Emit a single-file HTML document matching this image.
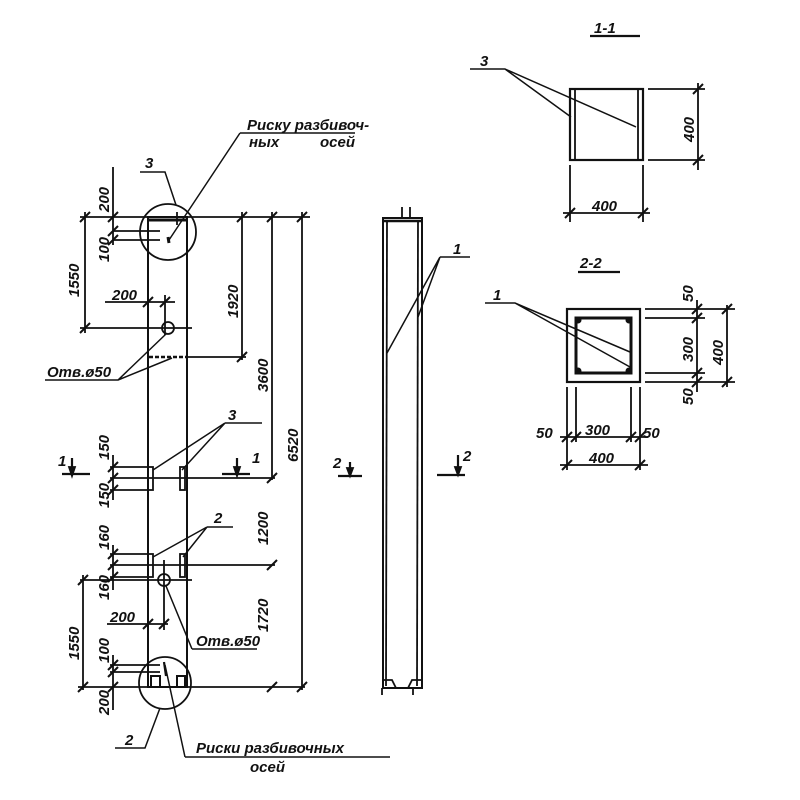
<!DOCTYPE html>
<html><head><meta charset="utf-8"><style>
html,body{margin:0;padding:0;background:#fff}
svg{display:block}
text{font-family:"Liberation Sans",sans-serif;font-style:italic;font-weight:bold;fill:#111;font-size:15px}
</style></head><body>
<svg width="800" height="800" viewBox="0 0 800 800" xmlns="http://www.w3.org/2000/svg">
<g stroke="#111" stroke-width="1.8" fill="none">
<!-- main column -->
<rect x="148" y="217" width="39" height="470" stroke-width="2"/>
<line x1="149" y1="220" x2="186" y2="220" stroke-width="3"/>
<line x1="177" y1="212" x2="177" y2="225"/>
<line x1="168" y1="237" x2="169" y2="243" stroke-width="3"/>
<circle cx="168" cy="232" r="28"/>
<circle cx="168" cy="328" r="6"/>
<line x1="149" y1="357" x2="187" y2="357" stroke-dasharray="4,2" stroke-width="2.5"/>
<circle cx="164" cy="580" r="6"/>
<circle cx="165" cy="683" r="26"/>
<path d="M151 687 V676 H160 V687 M177 687 V676 H185 V687" stroke-width="2"/>
<line x1="164" y1="662" x2="166" y2="676" stroke-width="2.2"/>
<!-- plates -->
<rect x="148" y="467" width="5" height="23"/><rect x="180" y="467" width="5" height="23"/>
<rect x="148" y="554" width="5" height="23"/><rect x="180" y="554" width="5" height="23"/>
<!-- left dims top -->
<line x1="80" y1="217" x2="310" y2="217"/>
<line x1="113" y1="167" x2="113" y2="245"/>
<line x1="113" y1="231" x2="160" y2="231"/><line x1="113" y1="240" x2="160" y2="240"/>
<line x1="85" y1="212" x2="85" y2="333"/>
<line x1="80" y1="328" x2="192" y2="328"/>
<line x1="105" y1="302" x2="175" y2="302"/><line x1="165" y1="295" x2="165" y2="335"/>
<line x1="242" y1="212" x2="242" y2="360"/><line x1="187" y1="357" x2="246" y2="357"/>
<line x1="272" y1="212" x2="272" y2="480"/>
<line x1="302" y1="212" x2="302" y2="690"/>
<line x1="110" y1="467" x2="148" y2="467"/><line x1="110" y1="478" x2="275" y2="478"/><line x1="110" y1="490" x2="148" y2="490"/>
<line x1="110" y1="554" x2="148" y2="554"/><line x1="110" y1="565" x2="275" y2="565"/><line x1="110" y1="577" x2="148" y2="577"/>
<line x1="113" y1="455" x2="113" y2="500"/><line x1="113" y1="545" x2="113" y2="590"/>
<line x1="80" y1="580" x2="192" y2="580"/>
<line x1="83" y1="575" x2="83" y2="690"/>
<line x1="107" y1="624" x2="168" y2="624"/><line x1="164" y1="560" x2="164" y2="630"/><line x1="148" y1="615" x2="148" y2="630"/>
<line x1="110" y1="665" x2="160" y2="665"/><line x1="110" y1="672" x2="160" y2="672"/>
<line x1="113" y1="655" x2="113" y2="710"/>
<line x1="78" y1="687" x2="305" y2="687"/>
<g stroke-width="2">
<path d="M80 222 l10 -10 M108 222 l10 -10 M108 236 l10 -10 M108 245 l10 -10 M237 222 l10 -10 M267 222 l10 -10 M297 222 l10 -10 M80 333 l10 -10 M237 362 l10 -10 M143 307 l10 -10 M160 307 l10 -10 M267 483 l10 -10 M267 570 l10 -10 M297 692 l10 -10 M267 692 l10 -10 M78 692 l10 -10 M78 585 l10 -10 M108 472 l10 -10 M108 483 l10 -10 M108 495 l10 -10 M108 559 l10 -10 M108 570 l10 -10 M108 582 l10 -10 M143 629 l10 -10 M159 629 l10 -10 M108 670 l10 -10 M108 677 l10 -10 M108 692 l10 -10"/>
</g>
<!-- leaders -->
<g stroke-width="1.5">
<path d="M240 133 H355 M240 133 L169 240"/>
<path d="M140 172 H165 L176 205"/>
<path d="M45 380 H118 L166 334 M118 380 L172 358"/>
<path d="M225 423 H262 M225 423 L153 470 M225 423 L182 470"/>
<path d="M207 527 H233 M207 527 L153 557 M207 527 L183 557"/>
<path d="M192 649 H257 M192 649 L166 586"/>
<path d="M115 748 H145 L160 708"/>
<path d="M185 757 H390 M185 757 L165 665"/>
<path d="M440 257 H470 M440 257 L387 353 M440 257 L418 317"/>
<path d="M470 69 H505 L571 117 M505 69 L636 127"/>
<path d="M485 303 H515 L630 352 M515 303 L630 367"/>
</g>
<!-- section arrows -->
<path d="M72 458 V474 M62 474 H90 M237 458 V474 M222 474 H250 M350 462 V476 M338 476 H362 M458 455 V475 M437 475 H465" stroke-width="2.2"/>
<path d="M69 467 L72 476 L75 467 Z M234 467 L237 476 L240 467 Z M347 468 L350 476 L353 468 Z M455 467 L458 475 L461 467 Z" fill="#111"/>
<!-- middle column -->
<rect x="383" y="218" width="39" height="470" stroke-width="2"/>
<line x1="387" y1="220" x2="386" y2="686"/><line x1="418" y1="220" x2="417" y2="686"/>
<line x1="383" y1="221" x2="422" y2="221" stroke-width="2.5"/>
<line x1="402" y1="207" x2="402" y2="218"/><line x1="410" y1="207" x2="410" y2="218"/>
<path d="M383 680 H392 L396 688 H408 L412 680 H422"/>
<line x1="382" y1="688" x2="382" y2="695"/><line x1="413" y1="688" x2="413" y2="695"/>
<!-- section 1-1 -->
<line x1="590" y1="36" x2="640" y2="36" stroke-width="2.2"/>
<rect x="570" y="89" width="73" height="71" stroke-width="2.2"/>
<line x1="575" y1="89" x2="575" y2="160"/><line x1="638" y1="89" x2="638" y2="160"/>
<path d="M648 89 H705 M648 160 H705 M698 83 V170 M570 165 V222 M643 165 V222 M563 213 H650"/>
<path d="M693 94 l10 -10 M693 165 l10 -10 M565 218 l10 -10 M638 218 l10 -10" stroke-width="2"/>
<!-- section 2-2 -->
<line x1="578" y1="272" x2="620" y2="272" stroke-width="2.2"/>
<rect x="567" y="309" width="73" height="73" stroke-width="2.2"/>
<rect x="576" y="318" width="55" height="55" stroke-width="3"/>
<path d="M645 309 H735 M645 318 H705 M645 373 H705 M645 382 H735 M697 300 V392 M727 305 V387"/>
<path d="M567 387 V470 M576 387 V442 M631 387 V442 M640 387 V470 M560 437 H648 M560 465 H648"/>
<path d="M692 314 l10 -10 M692 323 l10 -10 M692 378 l10 -10 M692 387 l10 -10 M722 314 l10 -10 M722 387 l10 -10 M562 442 l10 -10 M571 442 l10 -10 M626 442 l10 -10 M635 442 l10 -10 M562 470 l10 -10 M635 470 l10 -10" stroke-width="2"/>
</g>
<g fill="#111">
<circle cx="578" cy="320" r="3.5"/><circle cx="629" cy="320" r="3.5"/><circle cx="578" cy="371" r="3.5"/><circle cx="629" cy="371" r="3.5"/>
</g>
<text x="247" y="130" font-size="16">Риску  разбивоч-</text>
<text x="249" y="147" font-size="14">ных</text><text x="320" y="147" font-size="14">осей</text>
<text x="145" y="168" font-size="17">3</text>
<text x="47" y="377" font-size="15">Отв.ø50</text>
<text x="228" y="420" font-size="17">3</text>
<text x="214" y="523" font-size="17">2</text>
<text x="196" y="646" font-size="15">Отв.ø50</text>
<text x="125" y="745" font-size="17">2</text>
<text x="196" y="753" font-size="15">Риски   разбивочных</text>
<text x="250" y="772" font-size="15">осей</text>
<text x="112" y="300" font-size="15">200</text>
<text x="110" y="622" font-size="15">200</text>
<text x="58" y="466" font-size="16">1</text><text x="252" y="463" font-size="16">1</text>
<text x="333" y="468" font-size="16">2</text><text x="463" y="461" font-size="16">2</text>
<text x="453" y="254" font-size="16">1</text>
<text x="594" y="33" font-size="17">1-1</text>
<text x="592" y="211" font-size="15">400</text>
<text x="480" y="66" font-size="16">3</text>
<text x="580" y="268" font-size="17">2-2</text>
<text x="493" y="300" font-size="16">1</text>
<text x="536" y="438" font-size="15">50</text><text x="585" y="435" font-size="15">300</text><text x="643" y="438" font-size="15">50</text>
<text x="589" y="463" font-size="15">400</text>
<g font-size="15">
<text transform="translate(109,212) rotate(-90)">200</text>
<text transform="translate(109,262) rotate(-90)">100</text>
<text transform="translate(79,297) rotate(-90)">1550</text>
<text transform="translate(238,318) rotate(-90)">1920</text>
<text transform="translate(268,392) rotate(-90)">3600</text>
<text transform="translate(298,462) rotate(-90)">6520</text>
<text transform="translate(109,460) rotate(-90)">150</text>
<text transform="translate(109,508) rotate(-90)">150</text>
<text transform="translate(268,545) rotate(-90)">1200</text>
<text transform="translate(109,550) rotate(-90)">160</text>
<text transform="translate(109,600) rotate(-90)">160</text>
<text transform="translate(79,660) rotate(-90)">1550</text>
<text transform="translate(268,632) rotate(-90)">1720</text>
<text transform="translate(109,663) rotate(-90)">100</text>
<text transform="translate(109,715) rotate(-90)">200</text>
<text transform="translate(694,142) rotate(-90)">400</text>
<text transform="translate(693,302) rotate(-90)">50</text>
<text transform="translate(693,362) rotate(-90)">300</text>
<text transform="translate(723,365) rotate(-90)">400</text>
<text transform="translate(693,405) rotate(-90)">50</text>
</g>
</svg>
</body></html>
